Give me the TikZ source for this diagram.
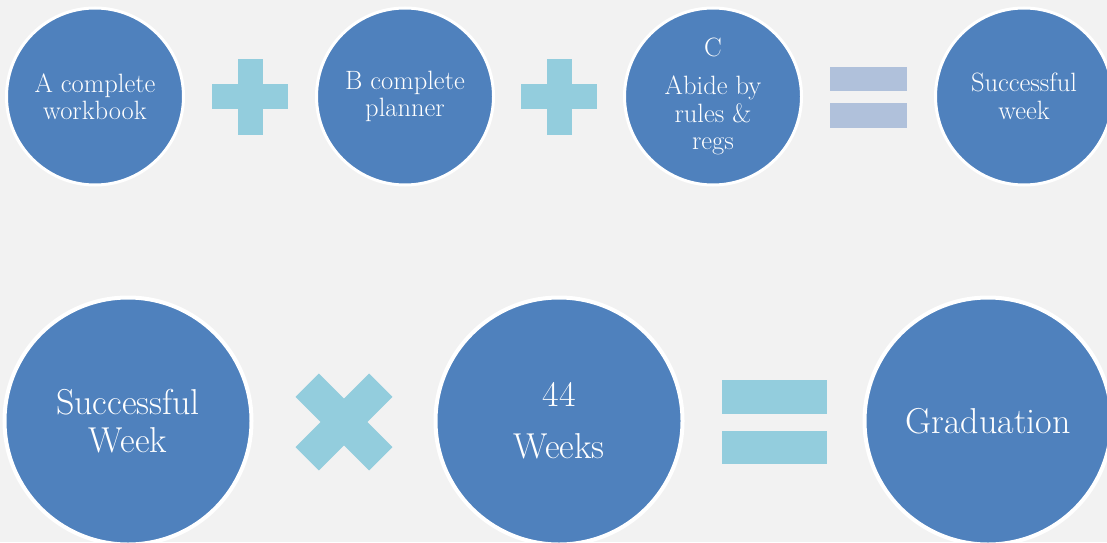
\documentclass[tikz,border=0pt]{standalone}
\usepackage{fontspec}
\usepackage{xcolor}
\definecolor{discblue}{HTML}{4F81BD}
\definecolor{signblue}{HTML}{93CDDD}
\definecolor{signgrey}{HTML}{B0C1DB}
\definecolor{paper}{HTML}{F2F2F2}
\def\plusarm{38}
\def\plusbar{12.5}

\begin{document}
\begin{tikzpicture}[x=1pt,y=1pt]
    \tikzstyle{disc}=[circle, fill=discblue, draw=white, text=white, align=center, inner sep=0pt]
    \tikzstyle{small disc}=[disc, minimum size=177pt, line width=3pt, font=\fontsize{26.5}{27.5}\selectfont]
    \tikzstyle{big disc}=[disc, minimum size=247pt, line width=4pt, font=\fontsize{36}{38}\selectfont]
    \tikzstyle{sign}=[fill=signblue]
    \tikzstyle{pale sign}=[fill=signgrey]

    \fill[paper] (0,0) rectangle (1107,542);
    \useasboundingbox (0,0) rectangle (1107,542);

    % top row
    \node[small disc] (A) at (95,445.5) {A complete\\workbook};
    \node[small disc] (B) at (405,445.5) {B complete\\planner};
    \node[small disc] (C) at (713,445.5) {C\\[11pt]Abide by\\rules \&\\regs};
    \node[small disc] (W) at (1024,445.5) {Successful\\week};

    \coordinate (P-1) at (250,445);
    \coordinate (P-2) at (559,445);
    \coordinate (E-1) at (868.5,445);

    \foreach \p in {P-1,P-2}{
        \fill[sign] ([shift={(-\plusarm,-\plusbar)}]\p) rectangle ([shift={(\plusarm,\plusbar)}]\p);
        \fill[sign] ([shift={(-\plusbar,-\plusarm)}]\p) rectangle ([shift={(\plusbar,\plusarm)}]\p);
    }
    \fill[pale sign] ([shift={(-38.5,6)}]E-1) rectangle ([shift={(38.5,30)}]E-1);
    \fill[pale sign] ([shift={(-38.5,-31)}]E-1) rectangle ([shift={(38.5,-6)}]E-1);

    % bottom row
    \node[big disc] (SW) at (128,121) {Successful\\Week};
    \node[big disc] (N) at (559,121) {44\\[14pt]Weeks};
    \node[big disc] (G) at (988,121) {Graduation};

    \coordinate (X) at (344,120);
    \coordinate (E-2) at (774.5,120);

    \begin{scope}[shift={(X)}, rotate=45]
        \fill[sign] (-52,-16.5) rectangle (52,16.5);
        \fill[sign] (-16.5,-52) rectangle (16.5,52);
    \end{scope}
    \fill[sign] ([shift={(-52.5,8)}]E-2) rectangle ([shift={(52.5,42)}]E-2);
    \fill[sign] ([shift={(-52.5,-42)}]E-2) rectangle ([shift={(52.5,-9)}]E-2);
\end{tikzpicture}
\end{document}
